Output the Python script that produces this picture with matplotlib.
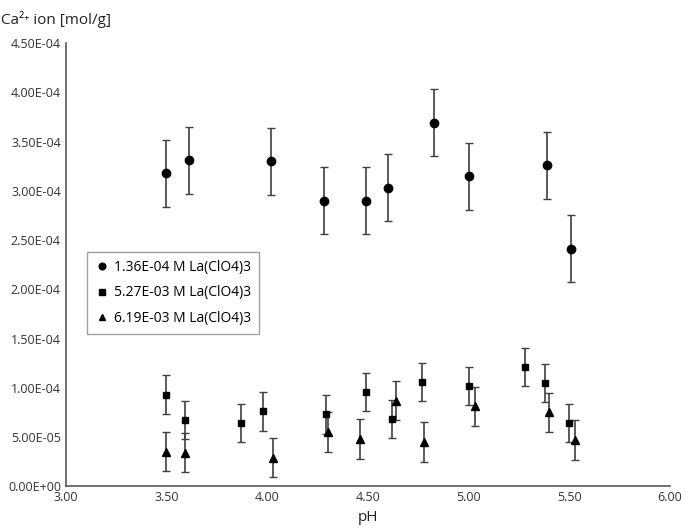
import matplotlib
matplotlib.use("Agg")
import matplotlib.pyplot as plt
from matplotlib.lines import Line2D
from matplotlib.ticker import FuncFormatter

plt.rcParams['font.family'] = ['Open Sans', 'DejaVu Sans']

# 1.36E-04 M La(ClO4)3
ph1 = [3.50, 3.61, 4.02, 4.28, 4.49, 4.60, 4.83, 5.00, 5.39, 5.51]
ca1 = [3.18e-4, 3.31e-4, 3.30e-4, 2.90e-4, 2.90e-4, 3.03e-4, 3.69e-4, 3.15e-4, 3.26e-4, 2.41e-4]
err1 = 3.4e-5

# 5.27E-03 M La(ClO4)3
ph2 = [3.50, 3.59, 3.87, 3.98, 4.29, 4.49, 4.62, 4.77, 5.00, 5.28, 5.38, 5.50]
ca2 = [0.93e-4, 0.67e-4, 0.64e-4, 0.76e-4, 0.73e-4, 0.96e-4, 0.68e-4, 1.06e-4, 1.02e-4, 1.21e-4, 1.05e-4, 0.64e-4]
err2 = 1.95e-5

# 6.19E-03 M La(ClO4)3
ph3 = [3.50, 3.59, 4.03, 4.30, 4.46, 4.64, 4.78, 5.03, 5.40, 5.53]
ca3 = [0.35e-4, 0.34e-4, 0.29e-4, 0.55e-4, 0.48e-4, 0.87e-4, 0.45e-4, 0.81e-4, 0.75e-4, 0.47e-4]
err3 = 2.0e-5

labels = ['1.36E-04 M La(ClO4)3', '5.27E-03 M La(ClO4)3', '6.19E-03 M La(ClO4)3']

fig = plt.figure(figsize=(6.85, 5.32), dpi=100)
ax = fig.add_axes([0.096, 0.086, 0.882, 0.833])

series = [(ph1, ca1, err1, 'o', 6), (ph2, ca2, err2, 's', 5), (ph3, ca3, err3, '^', 6)]
handles = []
for (x, y, e, m, ms), lab in zip(series, labels):
    ax.errorbar(x, y, yerr=e, fmt=m, color='black', ms=ms, ecolor='#404040',
                elinewidth=1.2, capsize=3, capthick=1)
    handles.append(Line2D([], [], linestyle='none', marker=m, color='black',
                          ms=ms * 0.8, label=lab))

ax.set_xlim(3.0, 6.0)
ax.set_ylim(0, 4.5e-4)
ax.set_xticks([3.0, 3.5, 4.0, 4.5, 5.0, 5.5, 6.0])
ax.set_yticks([i * 0.5e-4 for i in range(10)])
ax.xaxis.set_major_formatter(FuncFormatter(lambda v, p: f"{v:.2f}"))
ax.yaxis.set_major_formatter(FuncFormatter(lambda v, p: f"{v:.2E}"))
ax.tick_params(length=0, labelsize=9, colors='#333333')
for s in ['top', 'right']:
    ax.spines[s].set_visible(False)
for s in ['left', 'bottom']:
    ax.spines[s].set_color('#595959')
    ax.spines[s].set_linewidth(1.2)

ax.set_xlabel('pH', fontsize=11, color='#222222', labelpad=4)
fig.text(0.002, 0.955, 'Ca\u00b2\u207a ion [mol/g]', fontsize=11, color='#222222')

leg = ax.legend(handles=handles, loc='upper left', bbox_to_anchor=(0.024, 0.545),
                fontsize=10, frameon=True, fancybox=False, edgecolor='#888888',
                handletextpad=0.3, handlelength=1.0, labelspacing=0.75,
                borderpad=0.6)
leg.get_frame().set_linewidth(1.0)

fig.savefig('out.png', dpi=100)
